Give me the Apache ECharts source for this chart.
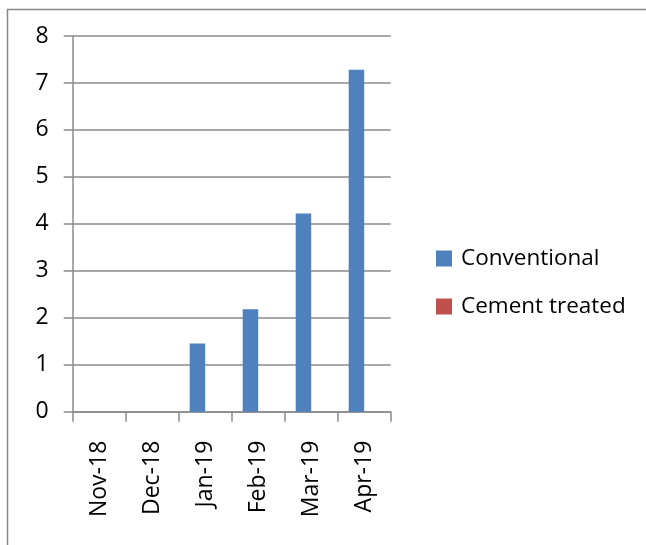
<!DOCTYPE html>
<html>
<head>
<meta charset="utf-8">
<style>
html,body{margin:0;padding:0;background:#fff;}
#chart{width:646px;height:545px;}
</style>
<script src="https://cdn.jsdelivr.net/npm/echarts@6/dist/echarts.min.js"></script>
</head>
<body>
<div id="chart"></div>
<script>
const categories = ['Nov-18','Dec-18','Jan-19','Feb-19','Mar-19','Apr-19'];
const conventional = [0, 0, 1.45, 2.18, 4.22, 7.28];
const cementTreated = [0, 0, 0, 0, 0, 0];
const seriesNames = ['Conventional', 'Cement treated'];

const FONT = '"Open Sans", "Noto Sans", sans-serif';
const AXIS_GRAY = '#8a8a8a';

const chart = echarts.init(document.getElementById('chart'), null, {renderer: 'canvas'});
chart.setOption({
  animation: false,
  backgroundColor: '#ffffff',
  graphic: [{
    type: 'rect',
    shape: {x: 7.5, y: 9.5, width: 700, height: 600},
    style: {fill: 'none', stroke: '#878787', lineWidth: 1.5},
    silent: true
  }],
  grid: {left: 72.7, right: 255.3, top: 36, bottom: 133.3, containLabel: false},
  legend: {
    orient: 'vertical',
    left: 431,
    top: 242,
    itemWidth: 16,
    itemHeight: 16,
    itemGap: 25,
    icon: 'rect',
    data: seriesNames,
    textStyle: {fontFamily: FONT, fontSize: 22.5, color: '#000', padding: [0, 0, 0, 4]}
  },
  xAxis: {
    type: 'category',
    data: categories,
    boundaryGap: true,
    axisLine: {show: true, lineStyle: {color: AXIS_GRAY, width: 1.5}},
    axisTick: {show: true, length: 10, alignWithLabel: false, lineStyle: {color: AXIS_GRAY, width: 1.5}},
    axisLabel: {rotate: 90, margin: 29, fontFamily: FONT, fontSize: 23, color: '#000'},
    splitLine: {show: false}
  },
  yAxis: {
    type: 'value',
    min: 0,
    max: 8,
    interval: 1,
    axisLine: {show: true, lineStyle: {color: AXIS_GRAY, width: 1.5}},
    axisTick: {show: true, length: 9, lineStyle: {color: AXIS_GRAY, width: 1.5}},
    axisLabel: {margin: 24, fontFamily: FONT, fontSize: 23, color: '#000'},
    splitLine: {show: true, lineStyle: {color: AXIS_GRAY, width: 1.5}}
  },
  series: [
    {name: seriesNames[0], type: 'bar', data: conventional, barWidth: 15.5, barGap: '0%', itemStyle: {color: '#4F81BD'}},
    {name: seriesNames[1], type: 'bar', data: cementTreated, barWidth: 15.5, barGap: '0%', itemStyle: {color: '#C0504D'}}
  ]
});
</script>
</body>
</html>
